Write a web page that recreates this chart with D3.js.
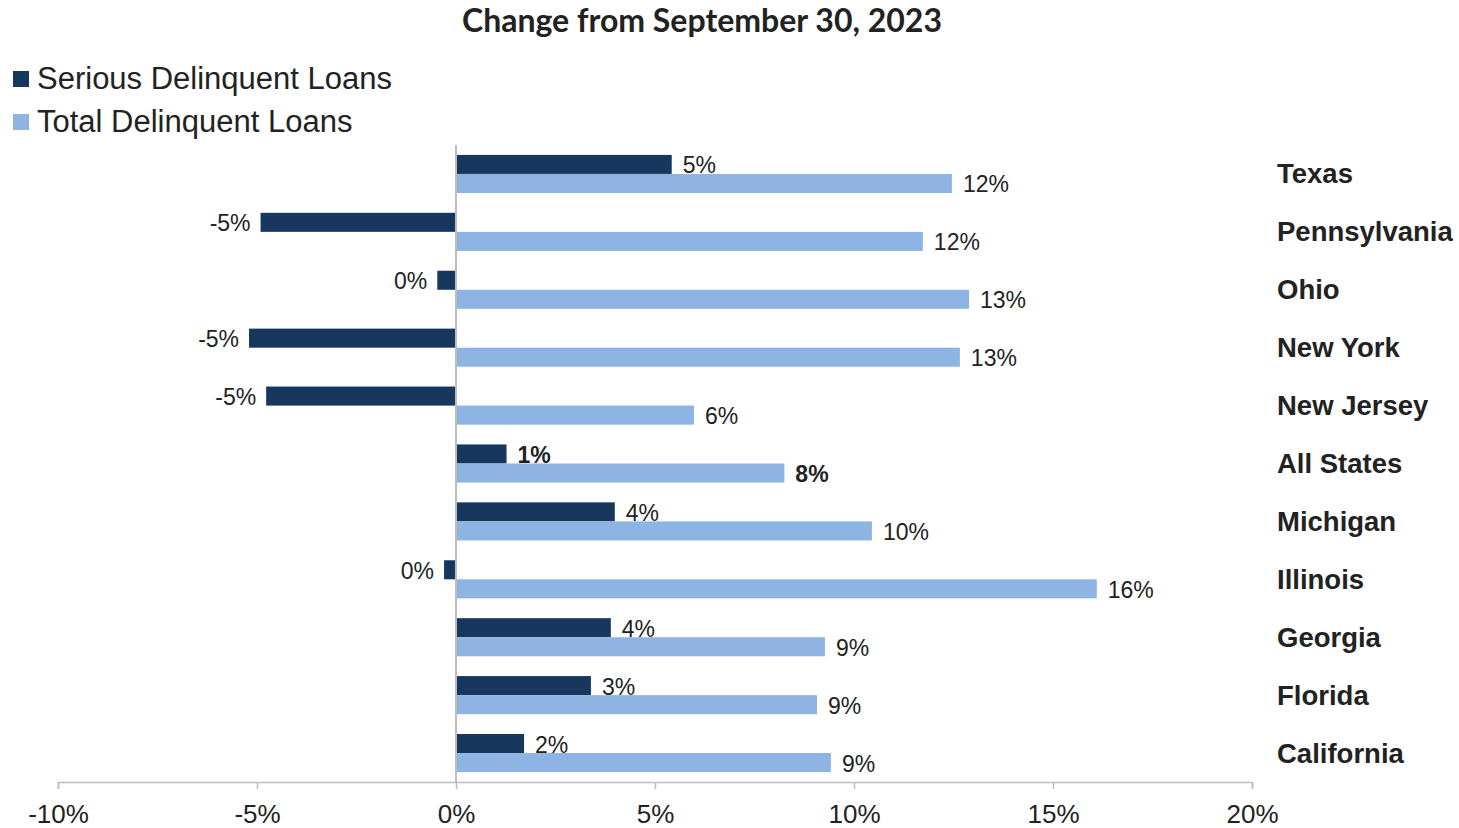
<!DOCTYPE html>
<html>
<head>
<meta charset="utf-8">
<script src="https://cdn.jsdelivr.net/npm/d3@7"></script>
<style>
  html, body { margin: 0; padding: 0; background: #ffffff; }
  svg { display: block; }
</style>
</head>
<body>
<svg id="chart" width="1459" height="828"></svg>
<script>
// Change in delinquent loans by state, percent
const states = ["Texas", "Pennsylvania", "Ohio", "New York", "New Jersey", "All States",
                "Michigan", "Illinois", "Georgia", "Florida", "California"];
const seriousChange = [5.42, -4.91, -0.47, -5.20, -4.77, 1.27, 3.99, -0.30, 3.89, 3.39, 1.71];
const totalChange   = [12.46, 11.73, 12.89, 12.66, 5.98, 8.25, 10.45, 16.10, 9.27, 9.07, 9.42];
const seriesNames = ["Serious Delinquent Loans", "Total Delinquent Loans"];
const xTicks = [-10, -5, 0, 5, 10, 15, 20];
const highlight = "All States";

const colors = { serious: "#17375E", total: "#8EB4E3" };
const textColor = "#222222";
const axisColor = "#BDBDBD";

const rows = states.map((s, i) => ({ state: s, serious: seriousChange[i], total: totalChange[i] }));
const keys = ["serious", "total"];

const svg = d3.select("#chart");
const plot = { left: 58, right: 1252, top: 145, bottom: 782 };

const x = d3.scaleLinear().domain([-10, 20]).range([plot.left, plot.right]);
const y = d3.scaleBand().domain(states).range([plot.top, plot.bottom]).paddingInner(0).paddingOuter(0);
const y1 = d3.scaleBand().domain(keys).range([0, y.bandwidth()]).paddingInner(0).paddingOuter(0.52);

const fmt = v => String(Math.round(v)) + "%";

// Title
svg.append("text")
  .attr("x", 702).attr("y", 32)
  .attr("text-anchor", "middle")
  .attr("font-family", "Lato, 'Open Sans', sans-serif")
  .attr("font-weight", 700)
  .attr("font-size", 32)
  .attr("fill", textColor)
  .text("Change from September 30, 2023");

// Legend
const legend = svg.append("g");
seriesNames.forEach((name, i) => {
  const g = legend.append("g").attr("transform", `translate(13, ${71 + i * 43})`);
  g.append("rect").attr("width", 16).attr("height", 16).attr("fill", colors[keys[i]]);
  g.append("text")
    .attr("x", 24).attr("y", 17.5)
    .attr("font-family", "'Liberation Sans', Arial, sans-serif")
    .attr("font-size", 31)
    .attr("fill", textColor)
    .text(name);
});

// X axis
const xAxis = d3.axisBottom(x)
  .tickValues(xTicks)
  .tickSize(7)
  .tickPadding(16)
  .tickFormat(d => d + "%");

const gx = svg.append("g")
  .attr("transform", `translate(0, ${plot.bottom})`)
  .call(xAxis);
gx.select(".domain").attr("stroke", axisColor).attr("stroke-width", 1.5);
gx.selectAll(".tick line").attr("stroke", axisColor).attr("stroke-width", 1.5);
gx.selectAll(".tick text")
  .attr("font-family", "'Liberation Sans', Arial, sans-serif")
  .attr("font-size", 26)
  .attr("fill", textColor);

// Bars
const groups = svg.append("g").selectAll("g")
  .data(rows)
  .join("g")
  .attr("transform", d => `translate(0, ${y(d.state)})`);

groups.selectAll("rect")
  .data(d => keys.map(k => ({ key: k, value: d[k], state: d.state })))
  .join("rect")
  .attr("x", d => x(Math.min(0, d.value)))
  .attr("y", d => y1(d.key))
  .attr("width", d => Math.abs(x(d.value) - x(0)))
  .attr("height", y1.bandwidth())
  .attr("fill", d => colors[d.key]);

// Value labels
groups.selectAll("text.value")
  .data(d => keys.map(k => ({ key: k, value: d[k], state: d.state })))
  .join("text")
  .attr("class", "value")
  .attr("x", d => d.value < 0 ? x(d.value) - 10 : x(d.value) + 11)
  .attr("y", d => y1(d.key) + y1.bandwidth() / 2 + 9)
  .attr("text-anchor", d => d.value < 0 ? "end" : "start")
  .attr("font-family", "'Liberation Sans', Arial, sans-serif")
  .attr("font-size", 23)
  .attr("font-weight", d => d.state === highlight ? 700 : 400)
  .attr("fill", textColor)
  .text(d => fmt(d.value));

// Zero line
svg.append("line")
  .attr("x1", x(0)).attr("x2", x(0))
  .attr("y1", plot.top).attr("y2", plot.bottom)
  .attr("stroke", axisColor).attr("stroke-width", 2);

// Category labels on the right
svg.append("g").selectAll("text")
  .data(states)
  .join("text")
  .attr("x", 1277)
  .attr("y", d => y(d) + y.bandwidth() / 2 + 9.5)
  .attr("font-family", "'Liberation Sans', Arial, sans-serif")
  .attr("font-weight", 700)
  .attr("font-size", 27.5)
  .attr("fill", textColor)
  .text(d => d);
</script>
</body>
</html>
